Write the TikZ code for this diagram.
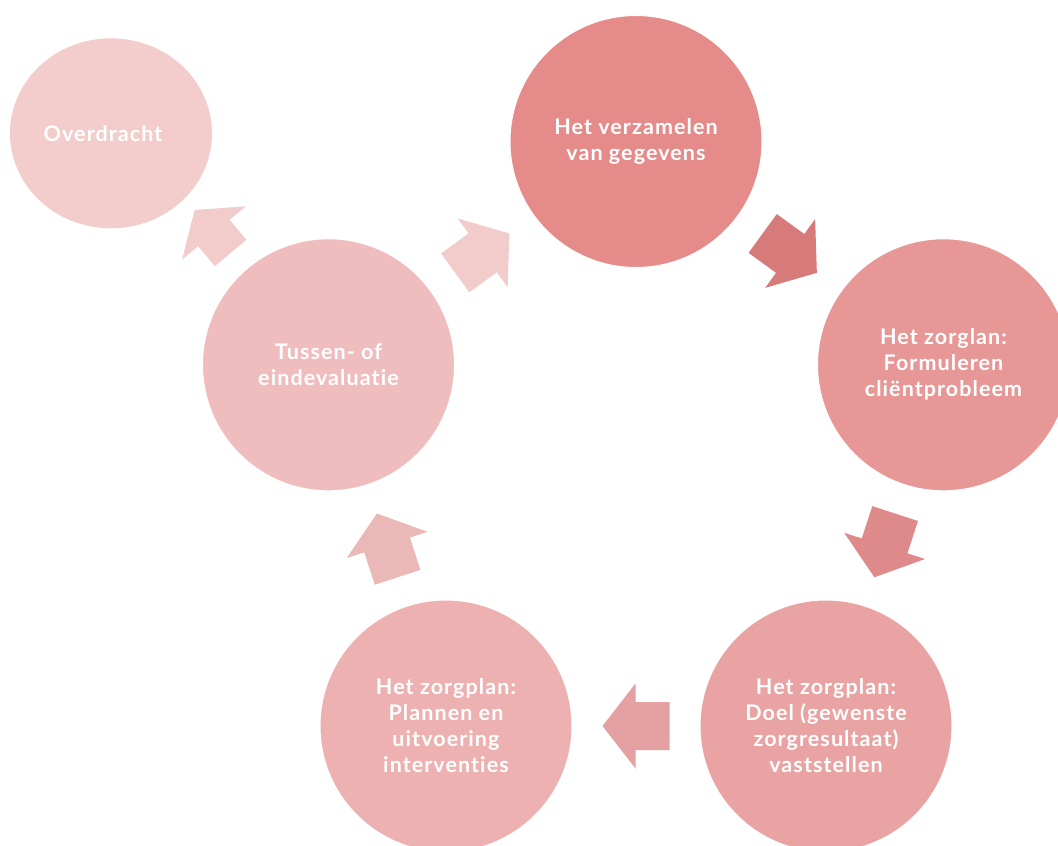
\documentclass[tikz,border=0pt]{standalone}
\usepackage{fontspec}
\setmainfont{Lato}[Ligatures=NoCommon,LetterSpace=5]
\usetikzlibrary{calc,shapes.geometric}
\definecolor{c1}{HTML}{E58B8A}
\definecolor{c2}{HTML}{E89797}
\definecolor{c3}{HTML}{EAA3A3}
\definecolor{c4}{HTML}{EEB1B1}
\definecolor{c5}{HTML}{F0BDBE}
\definecolor{c6}{HTML}{F3CCCC}
\definecolor{a12}{HTML}{D77A7A}
\definecolor{a23}{HTML}{DE8A8B}
\definecolor{a34}{HTML}{E5A1A2}
\definecolor{a45}{HTML}{EBB8B8}
\definecolor{a51}{HTML}{F2CBCB}
\definecolor{a56}{HTML}{F2CBCB}
\tikzset{
  pics/barrow/.style n args={5}{code={
    \fill[#5] (-#1/2,-#4/2) -- (#1/2-#2,-#4/2) -- (#1/2-#2,-#3/2) -- (#1/2,0)
      -- (#1/2-#2,#3/2) -- (#1/2-#2,#4/2) -- (-#1/2,#4/2) -- cycle;
  }},
  labeltext/.style={text=white, align=center, font=\fontsize{21.5}{26}\selectfont\bfseries},
  phase/.style={circle, fill=#1, draw=white, line width=1pt, inner sep=0pt, minimum size=252pt, labeltext}
}
\begin{document}
\begin{tikzpicture}[x=1pt,y=-1pt]
\useasboundingbox (0,0) rectangle (1058,846);
\clip (0,0) rectangle (1058,846);
\fill[white] (0,0) rectangle (1058,846);
\node[phase=c1] (n1) at (636,141.5) {Het verzamelen\\van gegevens};
\node[phase=c2] (n2) at (943.5,364.8) {Het zorglan:\\Formuleren\\cliëntprobleem};
\node[phase=c3] (n3) at (826,726) {Het zorgplan:\\Doel (gewenste\\zorgresultaat)\\vaststellen};
\node[phase=c4] (n4) at (446,726) {Het zorgplan:\\Plannen en\\uitvoering\\interventies};
\node[phase=c5] (n5) at (328.5,364.8) {Tussen- of\\eindevaluatie};
\node[ellipse, fill=c6, inner sep=0pt, minimum width=202pt, minimum height=190pt, labeltext] (n6) at (111,133.3) {Overdracht\hspace*{16pt}};
\pic[rotate=-36] at ($(n1)!.5!(n2)$) {barrow={67}{33}{85}{48}{a12}};
\pic[rotate=-108] at ($(n2)!.5!(n3)$) {barrow={67}{33}{85}{48}{a23}};
\pic[rotate=180] at ($(n3)!.5!(n4)$) {barrow={67}{33}{85}{48}{a34}};
\pic[rotate=108] at ($(n4)!.5!(n5)$) {barrow={67}{33}{85}{48}{a45}};
\pic[rotate=36] at ($(n5)!.5!(n1)$) {barrow={67}{33}{85}{48}{a51}};
\pic[rotate=130] at ($(n5)!.556!(n6)+(5,-4.6)$) {barrow={56}{30}{83}{41}{a56}};
\end{tikzpicture}
\end{document}
